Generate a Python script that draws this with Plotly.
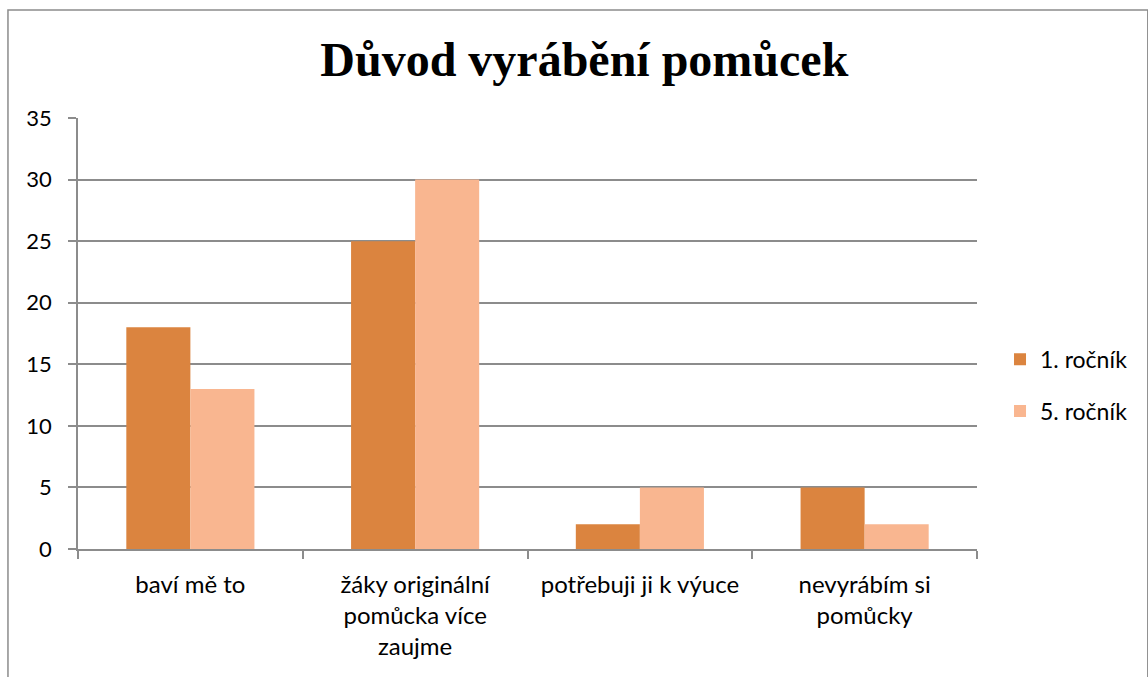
import plotly.graph_objects as go

title_text = "Důvod vyrábění pomůcek"
categories = ["baví mě to", "žáky originální<br>pomůcka více<br>zaujme", "potřebuji ji k výuce", "nevyrábím si<br>pomůcky"]
series_names = ["1. ročník", "5. ročník"]
values_1 = [18, 25, 2, 5]
values_5 = [13, 30, 5, 2]
colors = ["#DB843F", "#F9B690"]
y_ticks = [0, 5, 10, 15, 20, 25, 30, 35]

fam = "Lato, Open Sans, sans-serif"
grid_col = "#8C8C8C"

fig = go.Figure()
for name, vals, col in zip(series_names, [values_1, values_5], colors):
    fig.add_trace(go.Bar(x=categories, y=vals, name=name, marker=dict(color=col, line=dict(width=0)),
                         legendgroup=name))

fig.update_layout(
    width=1148, height=677,
    paper_bgcolor="white", plot_bgcolor="white",
    margin=dict(l=78, r=171, t=118, b=128),
    barmode="group", bargap=0.43, bargroupgap=0,
    title=dict(text="<b>" + title_text + "</b>", x=0.509, xanchor="center", y=0.913, yanchor="middle",
               yref="container",
               font=dict(family="Liberation Serif, Times New Roman, serif", size=48, color="#000000")),
    legend=dict(x=1.0256, y=0.38, xanchor="left", yanchor="middle",
                font=dict(family=fam, size=23, color="#000000"),
                tracegroupgap=19, bgcolor="rgba(0,0,0,0)"),
    showlegend=True,
)
fig.update_xaxes(showline=True, linecolor=grid_col, linewidth=1.5, ticks="outside", tickson="boundaries",
                 ticklen=8, tickcolor=grid_col, tickwidth=1.5,
                 tickfont=dict(family=fam, size=24, color="#000000"), showgrid=False,
                 ticklabelstandoff=13)
fig.update_yaxes(range=[0, 35], tickvals=y_ticks, showline=True, linecolor=grid_col, linewidth=1.5,
                 ticks="outside", ticklen=8, tickcolor=grid_col, tickwidth=1.5,
                 tickfont=dict(family=fam, size=22, color="#000000"),
                 showgrid=True, gridcolor=grid_col, gridwidth=1.5, zeroline=False, ticklabelstandoff=12)

# chart border (left and top visible)
fig.add_shape(type="rect", xref="paper", yref="paper", x0=-0.0779, x1=1.19, y0=-0.30, y1=1.2506,
              line=dict(color="#8C8C8C", width=1.5), fillcolor="rgba(0,0,0,0)", layer="below")

fig.write_html("out.html", config={"displayModeBar": False},
               post_script="document.body.style.margin='0px';")
